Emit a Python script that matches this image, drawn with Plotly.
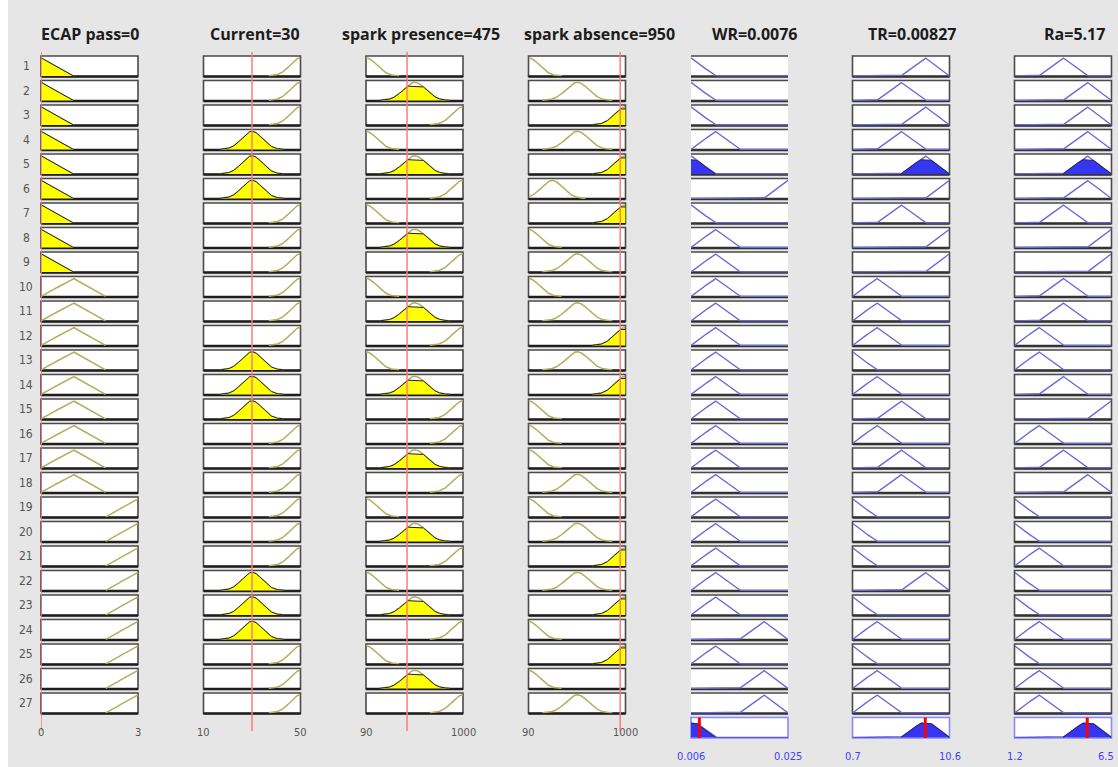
import numpy as np
import plotly.graph_objects as go

W, H = 1118, 767

# ---------------- data ----------------
rule_ids = [str(i) for i in range(1, 28)]

input_titles = ["ECAP pass=0", "Current=30", "spark presence=475", "spark absence=950"]
input_values = [0, 30, 475, 950]
input_ranges = [[0, 3], [10, 50], [90, 1000], [90, 1000]]
input_ticks = [["0", "3"], ["10", "50"], ["90", "1000"], ["90", "1000"]]

output_titles = ["WR=0.0076", "TR=0.00827", "Ra=5.17"]
output_ranges = [[0.006, 0.025], [0.7, 10.6], [1.2, 6.5]]
output_ticks = [["0.006", "0.025"], ["0.7", "10.6"], ["1.2", "6.5"]]

ecap_mfs = {"L": ("tri", [-1, 0, 1]), "M": ("tri", [0, 1, 2]), "H": ("tri", [2, 3, 4])}
current_mfs = {"L": ("gauss", [10, 4.2]), "M": ("gauss", [30, 4.2]), "H": ("gauss", [50, 4.2])}
spark_mfs = {"L": ("gauss", [90, 100]), "LM": ("gauss", [312, 100]),
             "M": ("gauss", [548, 105]), "H": ("gauss", [1000, 100])}
wr_mfs = {"L": ("tri", [0.00125, 0.006, 0.01075]), "LM": ("tri", [0.006, 0.01075, 0.0155]),
          "M": ("tri", [0.01075, 0.0155, 0.02025]), "H": ("tri", [0.0155, 0.02025, 0.025]),
          "VH": ("tri", [0.02025, 0.025, 0.02975])}
tr_mfs = {"L": ("tri", [-1.775, 0.7, 3.175]), "LM": ("tri", [0.7, 3.175, 5.65]),
          "M": ("tri", [3.175, 5.65, 8.125]), "H": ("tri", [5.65, 8.125, 10.6]),
          "VH": ("tri", [8.125, 10.6, 13.075])}
ra_mfs = {"L": ("tri", [-0.125, 1.2, 2.525]), "LM": ("tri", [1.2, 2.525, 3.85]),
          "M": ("tri", [2.525, 3.85, 5.175]), "H": ("tri", [3.85, 5.175, 6.5]),
          "VH": ("tri", [5.175, 6.5, 7.825])}

ecap_rule = ["L", "L", "L", "L", "L", "L", "L", "L", "L",
             "M", "M", "M", "M", "M", "M", "M", "M", "M",
             "H", "H", "H", "H", "H", "H", "H", "H", "H"]
current_rule = ["H", "H", "H", "M", "M", "M", "H", "H", "H",
                "H", "H", "H", "M", "M", "M", "H", "H", "H",
                "H", "H", "H", "M", "M", "M", "H", "H", "H"]
presence_rule = ["L", "M", "H", "L", "M", "H", "L", "M", "H",
                 "L", "M", "H", "L", "M", "H", "H", "M", "H",
                 "L", "M", "H", "L", "M", "H", "L", "M", "H"]
absence_rule = ["L", "M", "H", "M", "H", "LM", "H", "L", "M",
                "L", "M", "H", "M", "H", "L", "L", "L", "M",
                "L", "M", "H", "M", "H", "L", "H", "L", "M"]
wr_rule = ["L", "L", "L", "LM", "L", "VH", "L", "LM", "LM",
           "LM", "LM", "LM", "LM", "LM", "LM", "LM", "LM", "LM",
           "LM", "LM", "LM", "LM", "LM", "H", "LM", "H", "H"]
tr_rule = ["H", "M", "H", "M", "H", "VH", "M", "VH", "VH",
           "LM", "LM", "LM", "L", "LM", "M", "LM", "M", "M",
           "L", "L", "L", "H", "L", "LM", "L", "LM", "LM"]
ra_rule = ["M", "H", "H", "H", "H", "H", "M", "VH", "VH",
           "M", "M", "LM", "LM", "M", "VH", "LM", "M", "H",
           "L", "L", "LM", "L", "L", "LM", "L", "LM", "LM"]

input_mfs = [ecap_mfs, current_mfs, spark_mfs, spark_mfs]
input_rules = [ecap_rule, current_rule, presence_rule, absence_rule]
output_mfs = [wr_mfs, tr_mfs, ra_mfs]
output_rules = [wr_rule, tr_rule, ra_rule]

# ---------------- layout geometry ----------------
col_left = [41, 203.5, 366, 528.5, 691, 852.5, 1014.5]
col_w = 97
row_top0, row_step, box_h = 56, 24.5, 20.5
n_rules = len(rule_ids)
BG = "#e6e6e6"
SMALL_FONT = "Liberation Sans Narrow, DejaVu Sans Condensed, Arial"


def mf_eval(mf, x):
    kind, p = mf
    x = np.asarray(x, dtype=float)
    if kind == "tri":
        a, b, c = p
        return np.clip(np.minimum((x - a) / (b - a), (c - x) / (c - b)), 0, 1)
    m, s = p
    return np.exp(-((x - m) ** 2) / (2 * s * s))


def grid(rng, mf):
    x = np.linspace(rng[0], rng[1], 601)
    if mf[0] == "tri":
        extra = [v for v in mf[1] if rng[0] <= v <= rng[1]]
        x = np.union1d(x, extra)
    return x


def support(x, y, thr=2e-3):
    idx = np.where(y > thr)[0]
    if len(idx) == 0:
        return None, None
    i0, i1 = max(idx[0] - 1, 0), min(idx[-1] + 1, len(x) - 1)
    return x[i0:i1 + 1], y[i0:i1 + 1]


def axn(prefix, i):
    return prefix if i == 1 else f"{prefix}{i}"


fig = go.Figure()
shapes = []
annotations = []

# axes
for c in range(7):
    rng = input_ranges[c] if c < 4 else output_ranges[c - 4]
    fig.layout[axn("xaxis", c + 1)] = dict(
        domain=[col_left[c] / W, (col_left[c] + col_w) / W], range=rng,
        visible=False, fixedrange=True, anchor="y")
for r in range(n_rules + 1):
    top = row_top0 + r * row_step
    fig.layout[axn("yaxis", r + 1)] = dict(
        domain=[1 - (top + box_h) / H, 1 - top / H], range=[-0.03, 1.1],
        visible=False, fixedrange=True, anchor="x")

# firing strengths
mu_in = []
for c in range(4):
    mu_in.append([float(mf_eval(input_mfs[c][input_rules[c][r]], input_values[c]))
                  for r in range(n_rules)])
firing = [min(mu_in[c][r] for c in range(4)) for r in range(n_rules)]


def add_box(c, r, border="#4a4a4a", width=1.6, no_sides=False, bottom="#1e1e1e"):
    xr = f"{axn('x', c + 1)} domain"
    yr = f"{axn('y', r + 1)} domain"
    if no_sides:
        shapes.append(dict(type="rect", xref=xr, yref=yr, x0=0, x1=1, y0=0, y1=1,
                           fillcolor="white", line=dict(width=0), layer="below"))
        shapes.append(dict(type="line", xref=xr, yref=yr, x0=0, x1=1, y0=1, y1=1,
                           line=dict(color=border, width=width), layer="below"))
    else:
        shapes.append(dict(type="rect", xref=xr, yref=yr, x0=0, x1=1, y0=0, y1=1,
                           fillcolor="white", line=dict(color=border, width=width),
                           layer="below"))
    if bottom:
        shapes.append(dict(type="line", xref=xr, yref=yr, x0=0, x1=1, y0=0, y1=0,
                           line=dict(color=bottom, width=2.4), layer="below"))


# input columns
for c in range(4):
    rng = input_ranges[c]
    for r in range(n_rules):
        mf = input_mfs[c][input_rules[c][r]]
        x = grid(rng, mf)
        y = mf_eval(mf, x)
        add_box(c, r)
        xs, ys = support(x, y, thr=8e-3)
        xa, ya = axn("x", c + 1), axn("y", r + 1)
        if xs is not None:
            fig.add_trace(go.Scatter(x=xs, y=ys, mode="lines", xaxis=xa, yaxis=ya,
                                     line=dict(color="#b3ae5e", width=1.5),
                                     hoverinfo="skip", showlegend=False))
        mu = mu_in[c][r]
        if mu > 0.01:
            yc = np.minimum(y, mu)
            xs, ys = support(x, yc, thr=8e-3)
            fig.add_trace(go.Scatter(x=xs, y=ys, mode="lines", xaxis=xa, yaxis=ya,
                                     fill="tozeroy", fillcolor="#ffff00",
                                     line=dict(color="#1e1e1e", width=1),
                                     hoverinfo="skip", showlegend=False))
    # red input line
    shapes.append(dict(type="line", xref=axn("x", c + 1), yref="paper",
                       x0=input_values[c], x1=input_values[c],
                       y0=1 - 731 / H, y1=1 - 52 / H,
                       line=dict(color="#ff7a7a", width=1.5), layer="above"))
    # tick labels
    for k in range(2):
        annotations.append(dict(xref=axn("x", c + 1), yref="paper", x=rng[k], y=1 - 732 / H,
                                text=input_ticks[c][k], showarrow=False,
                                font=dict(family=SMALL_FONT, size=11, color="#555555"),
                                xanchor="center", yanchor="middle"))

# output columns
for o in range(3):
    c = 4 + o
    rng = output_ranges[o]
    agg_x = np.linspace(rng[0], rng[1], 1201)
    agg = np.zeros_like(agg_x)
    for r in range(n_rules):
        mf = output_mfs[o][output_rules[o][r]]
        x = grid(rng, mf)
        y = mf_eval(mf, x)
        add_box(c, r, no_sides=(o == 0), bottom="#333333")
        xa, ya = axn("x", c + 1), axn("y", r + 1)
        fig.add_trace(go.Scatter(x=x, y=y, mode="lines", xaxis=xa, yaxis=ya,
                                 line=dict(color="#6a6ad8", width=1.4),
                                 hoverinfo="skip", showlegend=False))
        w = firing[r]
        if w > 0.01:
            yc = np.minimum(y, w)
            xs, ys = support(x, yc)
            fig.add_trace(go.Scatter(x=xs, y=ys, mode="lines", xaxis=xa, yaxis=ya,
                                     fill="tozeroy", fillcolor="#3535f2",
                                     line=dict(color="#202060", width=1),
                                     hoverinfo="skip", showlegend=False))
            agg = np.maximum(agg, np.minimum(mf_eval(mf, agg_x), w))
    # aggregate row
    r = n_rules
    add_box(c, r, border="#8a8aff", width=1.6, bottom=None)
    xa, ya = axn("x", c + 1), axn("y", r + 1)
    fig.add_trace(go.Scatter(x=agg_x, y=agg, mode="lines", xaxis=xa, yaxis=ya,
                             line=dict(color="#5a5ad8", width=1.6),
                             hoverinfo="skip", showlegend=False))
    xs, ys = support(agg_x, agg)
    if xs is not None:
        fig.add_trace(go.Scatter(x=xs, y=ys, mode="lines", xaxis=xa, yaxis=ya,
                                 fill="tozeroy", fillcolor="#3535f2",
                                 line=dict(color="#202060", width=1),
                                 hoverinfo="skip", showlegend=False))
    centroid = float(np.sum(agg_x * agg) / np.sum(agg))
    shapes.append(dict(type="line", xref=xa, yref=f"{ya} domain",
                       x0=centroid, x1=centroid, y0=0, y1=1,
                       line=dict(color="#ff0000", width=3), layer="above"))
    for k in range(2):
        last = (o == 2 and k == 1)
        annotations.append(dict(xref=xa, yref="paper", x=rng[k], y=1 - 756 / H,
                                text=output_ticks[o][k], showarrow=False,
                                font=dict(family=SMALL_FONT, size=11, color="#3f3fff"),
                                xanchor="right" if last else "center",
                                xshift=4 if last else 0, yanchor="middle"))

# row numbers
for r in range(n_rules):
    yc = row_top0 + r * row_step + box_h / 2
    annotations.append(dict(xref="paper", yref="paper", x=26 / W, y=1 - yc / H,
                            text=rule_ids[r], showarrow=False,
                            font=dict(family=SMALL_FONT, size=12, color="#555555"),
                            xanchor="center", yanchor="middle"))

# titles
title_cx = [90, 255, 421, 599, 754, 912, 1074]
for i, t in enumerate(input_titles + output_titles):
    annotations.append(dict(xref="paper", yref="paper", x=title_cx[i] / W, y=1 - 34 / H,
                            text=t, showarrow=False,
                            font=dict(family="Open Sans", size=16, color="#1c1c1c", weight="bold"),
                            xanchor="center", yanchor="middle"))

# white strip on far left
shapes.append(dict(type="rect", xref="paper", yref="paper", x0=0, x1=8 / W, y0=0, y1=1,
                   fillcolor="white", line=dict(width=0), layer="below"))

fig.update_layout(width=W, height=H, margin=dict(l=0, r=0, t=0, b=0),
                  paper_bgcolor=BG, plot_bgcolor="white",
                  shapes=shapes, annotations=annotations, showlegend=False)
fig.write_html("out.html", config={"displayModeBar": False},
               post_script="document.body.style.margin='0';document.body.style.overflow='hidden';")
